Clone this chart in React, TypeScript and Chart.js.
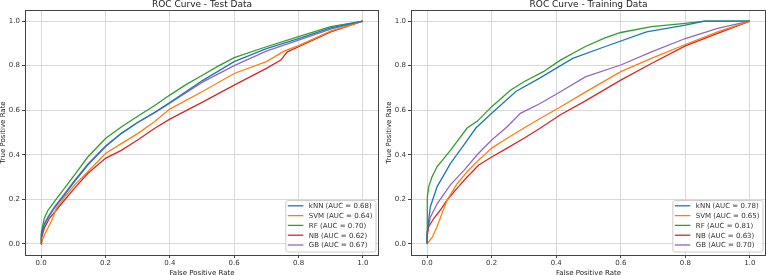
import React, { useEffect, useRef } from "react";
import { Chart, registerables } from "chart.js";

Chart.register(...registerables);

// ---------- data ----------
const modelNames = ["kNN", "SVM", "RF", "NB", "GB"];
const modelColors = ["#1f77b4", "#ff7f0e", "#2ca02c", "#d62728", "#9467bd"];
const testAuc = [0.68, 0.64, 0.7, 0.62, 0.67];
const trainAuc = [0.78, 0.65, 0.81, 0.63, 0.7];
const tickValues = [0, 0.2, 0.4, 0.6, 0.8, 1.0];

// Test data curves
const testKnnFpr = [0, 0.001, 0.01, 0.021, 0.041, 0.073, 0.104, 0.145, 0.2, 0.249, 0.3, 0.352, 0.4, 0.5, 0.6, 0.7, 0.8, 0.9, 1.0];
const testKnnTpr = [0, 0.04, 0.085, 0.115, 0.16, 0.22, 0.28, 0.354, 0.436, 0.495, 0.545, 0.59, 0.635, 0.732, 0.818, 0.877, 0.922, 0.97, 1.0];
const testSvmFpr = [0, 0.01, 0.026, 0.036, 0.047, 0.073, 0.104, 0.145, 0.2, 0.249, 0.3, 0.352, 0.4, 0.5, 0.6, 0.7, 0.755, 0.8, 0.9, 1.0];
const testSvmTpr = [0, 0.04, 0.085, 0.115, 0.16, 0.21, 0.264, 0.324, 0.406, 0.45, 0.495, 0.548, 0.605, 0.683, 0.765, 0.818, 0.865, 0.89, 0.955, 1.0];
const testRfFpr = [0, 0.001, 0.01, 0.021, 0.041, 0.073, 0.104, 0.145, 0.2, 0.249, 0.3, 0.352, 0.4, 0.45, 0.5, 0.55, 0.6, 0.7, 0.8, 0.9, 1.0];
const testRfTpr = [0, 0.055, 0.115, 0.15, 0.19, 0.25, 0.31, 0.39, 0.473, 0.525, 0.573, 0.62, 0.668, 0.715, 0.756, 0.798, 0.836, 0.885, 0.93, 0.975, 1.0];
const testNbFpr = [0, 0.001, 0.01, 0.026, 0.052, 0.073, 0.104, 0.145, 0.2, 0.249, 0.3, 0.352, 0.4, 0.5, 0.6, 0.7, 0.745, 0.765, 0.8, 0.9, 1.0];
const testNbTpr = [0, 0.025, 0.07, 0.115, 0.16, 0.197, 0.25, 0.316, 0.384, 0.42, 0.466, 0.518, 0.56, 0.635, 0.713, 0.788, 0.825, 0.862, 0.885, 0.952, 1.0];
const testGbFpr = [0, 0.001, 0.01, 0.021, 0.041, 0.073, 0.104, 0.145, 0.2, 0.249, 0.3, 0.352, 0.4, 0.5, 0.6, 0.7, 0.8, 0.9, 1.0];
const testGbTpr = [0, 0.045, 0.09, 0.12, 0.165, 0.225, 0.285, 0.358, 0.44, 0.497, 0.545, 0.588, 0.632, 0.725, 0.8, 0.865, 0.915, 0.964, 1.0];

// Training data curves
const trainKnnFpr = [0, 0.0, 0.01, 0.031, 0.072, 0.114, 0.151, 0.2, 0.275, 0.35, 0.451, 0.55, 0.68, 0.8, 0.86, 1.0];
const trainKnnTpr = [0, 0.05, 0.167, 0.257, 0.36, 0.444, 0.52, 0.586, 0.684, 0.745, 0.833, 0.885, 0.952, 0.982, 1.0, 1.0];
const trainSvmFpr = [0, 0.016, 0.031, 0.046, 0.062, 0.093, 0.124, 0.16, 0.2, 0.248, 0.3, 0.35, 0.41, 0.489, 0.6, 0.695, 0.8, 0.9, 1.0];
const trainSvmTpr = [0, 0.03, 0.078, 0.137, 0.197, 0.27, 0.324, 0.377, 0.43, 0.474, 0.52, 0.563, 0.612, 0.68, 0.773, 0.833, 0.895, 0.952, 1.0];
const trainRfFpr = [0, 0.0005, 0.005, 0.015, 0.031, 0.052, 0.072, 0.093, 0.124, 0.155, 0.2, 0.258, 0.3, 0.36, 0.413, 0.489, 0.551, 0.6, 0.695, 0.8, 0.86, 1.0];
const trainRfTpr = [0, 0.21, 0.257, 0.3, 0.347, 0.384, 0.42, 0.46, 0.52, 0.55, 0.616, 0.69, 0.728, 0.773, 0.825, 0.885, 0.925, 0.949, 0.975, 0.99, 1.0, 1.0];
const trainNbFpr = [0, 0.0, 0.005, 0.021, 0.041, 0.062, 0.093, 0.124, 0.16, 0.2, 0.248, 0.3, 0.35, 0.413, 0.489, 0.6, 0.695, 0.8, 0.9, 1.0];
const trainNbTpr = [0, 0.033, 0.078, 0.115, 0.152, 0.197, 0.25, 0.3, 0.354, 0.39, 0.43, 0.474, 0.519, 0.58, 0.641, 0.735, 0.81, 0.889, 0.945, 1.0];
const trainGbFpr = [0, 0.0, 0.01, 0.031, 0.072, 0.114, 0.155, 0.2, 0.248, 0.289, 0.35, 0.413, 0.49, 0.6, 0.695, 0.8, 0.9, 1.0];
const trainGbTpr = [0, 0.05, 0.12, 0.18, 0.265, 0.33, 0.4, 0.466, 0.526, 0.586, 0.63, 0.683, 0.75, 0.803, 0.862, 0.922, 0.967, 1.0];

const testCurves = [
  [testKnnFpr, testKnnTpr],
  [testSvmFpr, testSvmTpr],
  [testRfFpr, testRfTpr],
  [testNbFpr, testNbTpr],
  [testGbFpr, testGbTpr],
];
const trainCurves = [
  [trainKnnFpr, trainKnnTpr],
  [trainSvmFpr, trainSvmTpr],
  [trainRfFpr, trainRfTpr],
  [trainNbFpr, trainNbTpr],
  [trainGbFpr, trainGbTpr],
];

const FONT = "'DejaVu Sans', sans-serif";

const decorPlugin = {
  id: "decor",
  afterDatasetsDraw(chart: any, _args: any, opts: any) {
    const ctx = chart.ctx;
    const { left, right, top, bottom } = chart.chartArea;
    ctx.save();
    // frame
    ctx.strokeStyle = "#444";
    ctx.lineWidth = 1;
    ctx.strokeRect(Math.round(left) + 0.5, Math.round(top) + 0.5, Math.round(right - left) - 1, Math.round(bottom - top));
    // title
    ctx.fillStyle = "#222";
    ctx.font = `9px ${FONT}`;
    ctx.textAlign = "center";
    ctx.textBaseline = "alphabetic";
    ctx.fillText(opts.title, (left + right) / 2, 7);
    // axis titles
    ctx.font = `7px ${FONT}`;
    ctx.textBaseline = "middle";
    ctx.fillText("False Positive Rate", (left + right) / 2, 273);
    ctx.save();
    ctx.translate(left - 21.6, (top + bottom) / 2);
    ctx.rotate(-Math.PI / 2);
    ctx.fillText("True Positive Rate", 0, 0);
    ctx.restore();
    // legend
    const entries: string[] = opts.entries;
    ctx.font = `7px ${FONT}`;
    let maxW = 0;
    entries.forEach((t) => (maxW = Math.max(maxW, ctx.measureText(t).width)));
    const rowH = 9.8;
    const padL = 2.5, handle = 15.5, gap = 5.5, padR = 3;
    const w = padL + handle + gap + maxW + padR;
    const h = 5.7 + rowH * (entries.length - 1) + 6.5;
    const bx = right - 3.5 - w;
    const by = bottom - 3.5 - h;
    ctx.beginPath();
    if ((ctx as any).roundRect) (ctx as any).roundRect(bx + 0.5, by + 0.5, w, h, 2);
    else ctx.rect(bx + 0.5, by + 0.5, w, h);
    ctx.fillStyle = "rgba(255,255,255,0.85)";
    ctx.fill();
    ctx.strokeStyle = "#cccccc";
    ctx.lineWidth = 1;
    ctx.stroke();
    entries.forEach((t, i) => {
      const y = by + 5.7 + rowH * i;
      ctx.strokeStyle = modelColors[i];
      ctx.lineWidth = 1.3;
      ctx.beginPath();
      ctx.moveTo(bx + padL, y);
      ctx.lineTo(bx + padL + handle, y);
      ctx.stroke();
      ctx.fillStyle = "#333";
      ctx.textAlign = "left";
      ctx.textBaseline = "middle";
      ctx.fillText(t, bx + padL + handle + gap, y + 0.5);
    });
    ctx.restore();
  },
};

function axisCommon(fitFn: (s: any) => void) {
  return {
    type: "linear" as const,
    min: -0.05,
    max: 1.05,
    afterBuildTicks: (s: any) => {
      s.ticks = tickValues.map((v) => ({ value: v }));
    },
    afterFit: fitFn,
    ticks: {
      callback: (v: any) => Number(v).toFixed(1),
      font: { size: 7, family: FONT },
      color: "#333",
      autoSkip: false,
      maxRotation: 0,
    },
    grid: { color: "#d9d9d9", tickColor: "#444", tickLength: 3, lineWidth: 1 },
    border: { display: false },
  };
}

function RocChart(props: { title: string; curves: number[][][]; auc: number[]; yWidth: number; padRight: number }) {
  const ref = useRef<HTMLCanvasElement | null>(null);
  useEffect(() => {
    if (!ref.current) return;
    const datasets = props.curves.map((c, i) => ({
      label: `${modelNames[i]} (AUC = ${props.auc[i].toFixed(2)})`,
      data: c[0].map((x, j) => ({ x, y: c[1][j] })),
      showLine: true,
      borderColor: modelColors[i],
      backgroundColor: modelColors[i],
      borderWidth: 1.3,
      pointRadius: 0,
      tension: 0,
      fill: false,
    }));
    const xAxis: any = axisCommon((s: any) => { s.height = 20; });
    xAxis.ticks.padding = 1;
    const yAxis: any = axisCommon((s: any) => { s.width = props.yWidth; });
    yAxis.ticks.padding = 2;
    const chart = new Chart(ref.current, {
      type: "scatter",
      data: { datasets },
      options: {
        animation: false,
        responsive: false,
        devicePixelRatio: 1,
        layout: { padding: { left: 0, right: props.padRight, top: 10, bottom: 0 } },
        scales: { x: xAxis, y: yAxis },
        plugins: {
          legend: { display: false },
          tooltip: { enabled: false },
          title: { display: false },
          decor: { title: props.title, entries: datasets.map((d) => d.label) },
        } as any,
      },
      plugins: [decorPlugin],
    });
    return () => chart.destroy();
  }, []);
  return <canvas ref={ref} width={383} height={275} style={{ display: "block", width: 383, height: 275 }} />;
}

export default function App() {
  return (
    <div style={{ position: "fixed", left: 0, top: 0, width: 766, height: 275, background: "#fff", display: "flex" }}>
      <RocChart title="ROC Curve - Test Data" curves={testCurves} auc={testAuc} yWidth={25} padRight={4} />
      <RocChart title="ROC Curve - Training Data" curves={trainCurves} auc={trainAuc} yWidth={28} padRight={0} />
    </div>
  );
}
